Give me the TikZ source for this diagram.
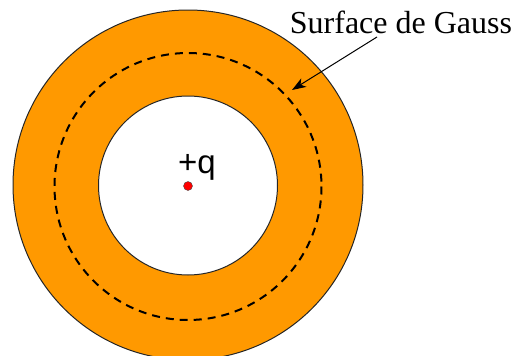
\documentclass[tikz,border=0pt]{standalone}
\usepackage{fontspec}
\setmainfont{Liberation Serif}
\newfontfamily\chargefont{Liberation Sans}
\usetikzlibrary{arrows.meta}
\definecolor{shellorange}{RGB}{255,153,0}
\begin{document}
\begin{tikzpicture}[x=1pt,y=-1pt]
    \useasboundingbox (0,0) rectangle (523,356);
    \fill[shellorange, draw=black!85, line width=1pt] (188,185) circle (175);
    \fill[white, draw=black!85, line width=1pt] (188,185.5) circle (89.5);
    \draw[line width=2pt, dash pattern=on 8pt off 6pt] (188,186.5) circle (133.5);
    \node[circle, fill=red, draw=black!70, inner sep=0pt, minimum size=9pt] (q) at (188,186) {};
    \node[font=\chargefont\fontsize{33}{33}\selectfont] (charge) at (197,167) {+q};
    \node[font=\fontsize{32}{32}\selectfont] (gauss) at (401,22) {Surface de Gauss};
    \coordinate (tip) at (292,90);
    \draw[line width=1pt, -{Stealth[length=14pt,width=10pt,inset=4pt]}] (gauss) -- (tip);
\end{tikzpicture}
\end{document}
